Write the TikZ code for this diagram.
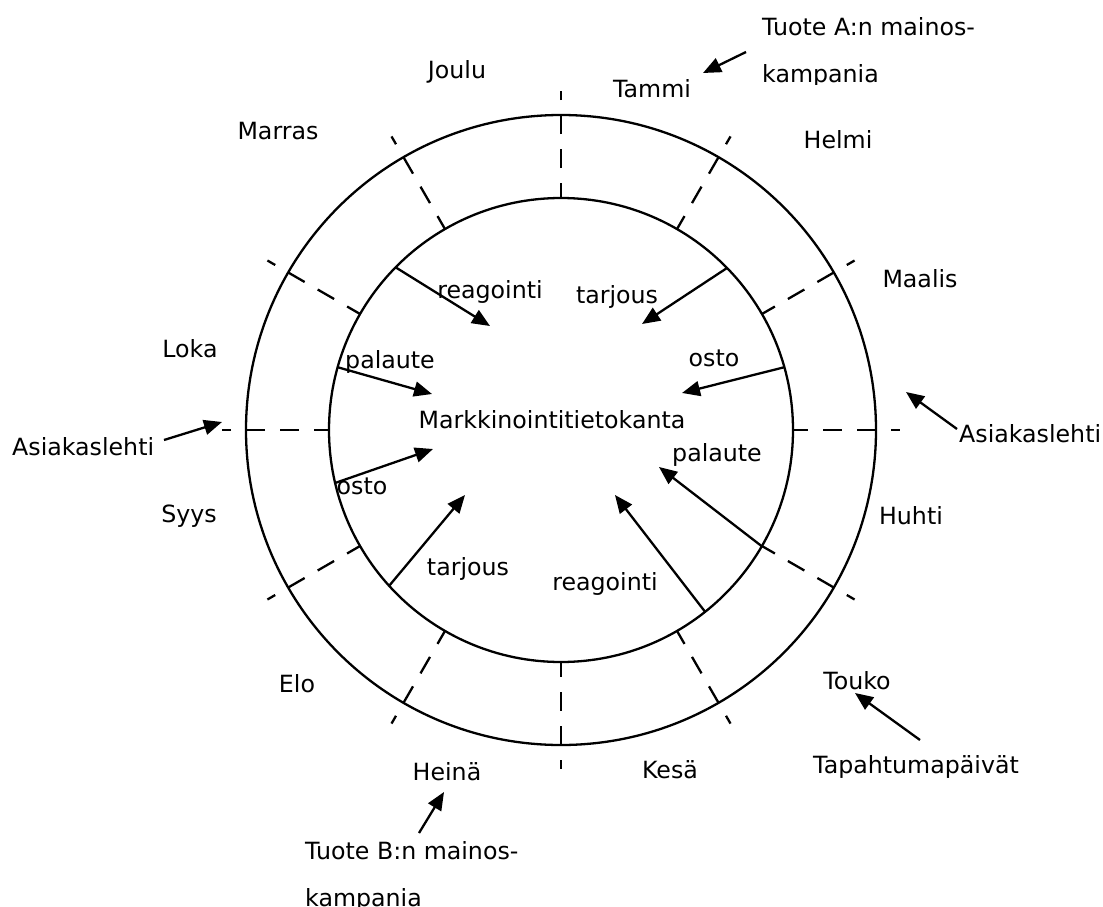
\documentclass[tikz,border=0pt]{standalone}
\usepackage{fontspec}
\setmainfont{DejaVu Sans}
\usetikzlibrary{arrows.meta}
\begin{document}
\begin{tikzpicture}[x=1pt,y=-1pt,
  ring/.style={line width=2.3pt},
  divider/.style={line width=2.3pt, dash pattern=on 19pt off 15pt, dash phase=4pt},
  flow/.style={line width=2.3pt, -{Triangle[length=18pt,width=15pt]}},
  lbl/.style={inner sep=0pt, anchor=base, font=\fontsize{23.7}{28}\selectfont},
  note/.style={lbl, anchor=base west, align=left, font=\fontsize{23.7}{47}\selectfont},
]
\useasboundingbox (0,0) rectangle (1103,907);
\coordinate (ctr) at (561,430);

% the year wheel: two rings and twelve month dividers
\draw[ring] (ctr) circle[radius=315];
\draw[ring] (ctr) circle[radius=232];
\foreach \a in {0,30,...,330}
  \draw[divider] ([shift={(ctr)}]\a:232) -- ([shift={(ctr)}]\a:339);

% months
\node[lbl] (joulu)  at (457,78)  {Joulu};
\node[lbl] (tammi)  at (652,97)  {Tammi};
\node[lbl] (marras) at (278,139) {Marras};
\node[lbl] (helmi)  at (838,148) {Helmi};
\node[lbl] (loka)   at (190,357) {Loka};
\node[lbl] (maalis) at (920,287) {Maalis};
\node[lbl] (syys)   at (189,522) {Syys};
\node[lbl] (huhti)  at (911,524) {Huhti};
\node[lbl] (elo)    at (297,692) {Elo};
\node[lbl] (touko)  at (857,689) {Touko};
\node[lbl] (heina)  at (447,780) {Heinä};
\node[lbl] (kesa)   at (670,778) {Kesä};

% database in the middle
\node[lbl] (db) at (552,428) {Markkinointitietokanta};

% flows from the inner ring towards the database
\coordinate (s1) at ([shift={(ctr)}]-135.5:232.5);
\coordinate (s2) at ([shift={(ctr)}]-44.3:232);
\coordinate (s3) at ([shift={(ctr)}]-164.3:232.5);
\coordinate (s4) at ([shift={(ctr)}]-15.7:232.5);
\coordinate (s5) at ([shift={(ctr)}]166.8:232);
\coordinate (s6) at ([shift={(ctr)}]137.8:232);
\coordinate (s7) at ([shift={(ctr)}]51.6:232);
\coordinate (s8) at ([shift={(ctr)}]30.1:233);
\coordinate (t1) at (490,326);
\coordinate (t2) at (642,324);
\coordinate (t3) at (432,394);
\coordinate (t4) at (682,393);
\coordinate (t5) at (433,449);
\coordinate (t6) at (465,495);
\coordinate (t7) at (615,495);
\coordinate (t8) at (659,467);
\foreach \i in {1,...,8} \draw[flow] (s\i) -- (t\i);

\node[lbl] (f1) at (490,298) {reagointi};
\node[lbl] (f2) at (617,303) {tarjous};
\node[lbl] (f3) at (390,368) {palaute};
\node[lbl] (f4) at (714,366) {osto};
\node[lbl] (f5) at (362,494) {osto};
\node[lbl] (f6) at (468,575) {tarjous};
\node[lbl] (f7) at (605,590) {reagointi};
\node[lbl] (f8) at (717,461) {palaute};

% campaigns and events around the wheel
\begin{scope}
  \clip (700,0) rectangle (1103,84);
  \node[note] (campA) at (762,82) {Tuote A:n mainos-\\kampania};
\end{scope}
\node[note] (magL) at (12,455)  {Asiakaslehti};
\node[note] (magR) at (959,442) {Asiakaslehti};
\node[note] (events) at (813,773) {Tapahtumapäivät};
\node[note] (campB) at (305,906) {Tuote B:n mainos-\\kampania};

\coordinate (campAfrom) at (746,52);   \coordinate (campAto) at (703,73);
\coordinate (magLfrom)  at (164,440);  \coordinate (magLto)  at (222,422);
\coordinate (magRfrom)  at (957,429);  \coordinate (magRto)  at (906,392);
\coordinate (eventsfrom) at (920,740); \coordinate (eventsto) at (855,693);
\coordinate (campBfrom) at (419,833);  \coordinate (campBto) at (444,792);
\draw[flow] (campAfrom) -- (campAto);
\draw[flow] (magLfrom) -- (magLto);
\draw[flow] (magRfrom) -- (magRto);
\draw[flow] (eventsfrom) -- (eventsto);
\draw[flow] (campBfrom) -- (campBto);
\end{tikzpicture}
\end{document}
